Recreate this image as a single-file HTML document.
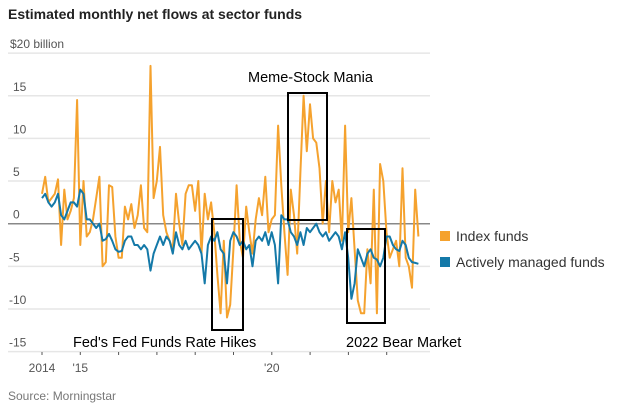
<!DOCTYPE html>
<html><head><meta charset="utf-8"><style>
body{margin:0;background:#fff;font-family:"Liberation Sans",sans-serif}
svg text{font-family:"Liberation Sans",sans-serif}
</style></head><body>
<svg width="629" height="412" viewBox="0 0 629 412">
<text x="8" y="19" font-size="14" font-weight="bold" fill="#222">Estimated monthly net flows at sector funds</text>
<g id="grid"></g>
<g id="series"></g>
<g id="notes"></g>
<text x="8" y="400" font-size="12" fill="#777">Source: Morningstar</text>
</svg>
<script>
const yTicks=[20,15,10,5,0,-5,-10,-15];
const yearLabels=["2014","'15","'20"];
const yearLabelYears=[2014,2015,2020];
const indexFunds=[3.5,5.5,2.5,3,3.5,5.2,-2.5,4,0.5,1.5,3,14.5,
-2.5,5,-1.5,-1,0.5,3,5.5,-5,-4.5,4.5,4.3,-1.5,
-4,-4,2,0.5,2.3,-0.5,1,4.5,-0.5,-1,18.5,3,
5,9,1,-1,-2,-3,3.5,0,-2.5,3.5,4.5,4.5,
1.5,5,-3.5,3.5,0.5,2.5,-1,-6,-10.5,-2,-11,-9.5,
-3,4.5,-2,-4,2,-1,-3.5,0.5,3,1,5.5,-1,
0.5,1,11.5,4.5,-1,-6,4,1,-3.5,6,15,8.5,
14,10,9.5,6.5,0,5,-1,5,2.5,4,-2,11.5,
-1,3,-3,-9,-10.5,-10.5,-3,-7,4,-10.5,7,5,
-1,-4,-3,-2,-5,6.5,-4,-5,-7.5,4,-1.5];
const activeFunds=[3,3.5,2.5,2,2.5,3.5,1,0.5,1.5,2.5,2.5,2,
4,3.5,0.5,0.5,0,-0.5,0,-2,-1.8,-1.2,-2,-3,
-3.3,-3.2,-2,-1.5,-1.5,-2.5,-2.5,-3,-2.5,-3,-5.5,-3.5,
-2.5,-1.5,-2.5,-1.5,-2,-3.5,-1,-2.5,-3,-2,-3,-2.5,
-2,-2.5,-3.5,-7,-2.5,-1.5,-2,-1,-3,-3.5,-7,-2,
-1,-1.5,-2.5,-2,-3,-2.5,-5,-2,-1.5,-2,-1,-2.5,
-1,-2.5,-7,1,0.5,0.5,-1,-1.5,-2.5,-1,-2.5,-0.5,
-1,-0.5,0,-1,-1.5,-1,-2,-1.5,-1,-1.5,-3,-1,
-4,-8.8,-7,-3,-4,-5,-3.5,-3,-4,-4.2,-5,-4,
-1.5,-1.5,-2.5,-3,-3.2,-2,-2.5,-4,-4.5,-4.6,-4.7];
const NS="http://www.w3.org/2000/svg";
const y=v=>223.7-v*8.53;
const x=i=>42+i*3.19;
const xYear=yr=>42+(yr-2014)*38.3;
function mk(tag,attrs,parent){const e=document.createElementNS(NS,tag);for(const k in attrs)e.setAttribute(k,attrs[k]);parent.appendChild(e);return e;}
const grid=document.getElementById('grid');
yTicks.forEach(t=>{
  if(t!==0){const l=mk('line',{x1:8,x2:430,y1:y(t),y2:y(t),stroke:'#e6e6e6','stroke-width':1.5},grid);
  
  }
  const tx=mk('text',{x:t===20?10:(t<0?9:13),y:y(t)-5,'font-size':12,fill:'#555'},grid);
  tx.textContent=t===20?'$20 billion':String(t);
  
  
});
const zl=mk('line',{x1:8,x2:430,y1:y(0),y2:y(0),stroke:'#888','stroke-width':1.5},grid);


for(let yr=2014;yr<=2023;yr++){
  const tk=mk('line',{x1:xYear(yr),x2:xYear(yr),y1:352,y2:355,stroke:'#555','stroke-width':1},grid);
  
  
}
yearLabels.forEach((lab,i)=>{
  const tx=mk('text',{x:xYear(yearLabelYears[i]),y:372,'font-size':12,fill:'#555','text-anchor':'middle'},grid);
  tx.textContent=lab;
  
  
});
const ser=document.getElementById('series');
function line(vals,color,name){
  const d=vals.map((v,i)=>(i?'L':'M')+x(i).toFixed(1)+','+y(v).toFixed(1)).join('');
  const p=mk('path',{d:d,fill:'none',stroke:color,'stroke-width':2,'stroke-linejoin':'round'},ser);
  
  
}
line(indexFunds,'#f5a22e','index-funds-line');
line(activeFunds,'#1479a8','active-funds-line');
const notes=document.getElementById('notes');
[[212,219,31,111,'fed-hikes-box'],[288,93,39,127,'meme-stock-box'],[347,229,38,94,'bear-market-box']].forEach(b=>{
  const r=mk('rect',{x:b[0],y:b[1],width:b[2],height:b[3],fill:'none',stroke:'#000','stroke-width':2},notes);
  
  
});
[[73,347,"Fed's Fed Funds Rate Hikes",'start','fed-hikes-label'],[248,82,'Meme-Stock Mania','start','meme-stock-label'],[346,347,'2022 Bear Market','start','bear-market-label']].forEach(a=>{
  const t=mk('text',{x:a[0],y:a[1],'font-size':14.5,fill:'#000','text-anchor':a[3]},notes);
  t.textContent=a[2];
  
  
});
[[231,'#f5a22e','Index funds','legend-index-funds'],[257,'#1479a8','Actively managed funds','legend-active-funds']].forEach(l=>{
  const s=mk('rect',{x:440,y:l[0],width:10,height:10,fill:l[1]},notes);
  
  
  const t=mk('text',{x:456,y:l[0]+10,'font-size':14,fill:'#333'},notes);
  t.textContent=l[2];
  
  
});
</script>
</body></html>
